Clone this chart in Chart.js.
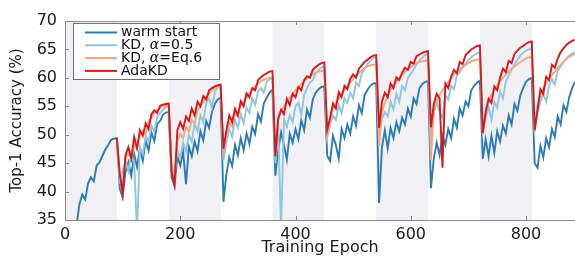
<!DOCTYPE html>
<html>
<head>
<meta charset="utf-8">
<title>Top-1 accuracy vs training epoch</title>
<script src="https://cdn.jsdelivr.net/npm/chart.js@4.4.1/dist/chart.umd.min.js"></script>
<style>
  html, body { margin: 0; padding: 0; background: #fff; }
  canvas { display: block; }
</style>
</head>
<body>
<canvas id="accChart" width="575" height="257"></canvas>
<script>
// values, one sample every 5 epochs
const epochStep = 5;
const warmStartFrom = 20;   // warm start enters the axis around epoch 20
const kdFrom = 90;          // the KD runs start after the first 90 epochs

const warmStart = [
  34.0, 37.8, 39.5, 38.6, 41.4, 42.5, 41.8, 44.6, 45.2, 46.3, 47.4, 48.2, 49.1, 49.3, 49.4,
  40.5, 39.0, 43.5, 45.2, 42.8, 46.6, 44.3, 47.6, 45.4, 49.0, 47.2, 50.4, 48.9, 51.9, 52.4, 53.5, 53.9, 54.0,
  42.5, 41.0, 46.2, 44.6, 47.0, 41.3, 47.9, 46.2, 48.8, 47.1, 50.6, 49.0, 52.4, 51.2, 54.0, 55.4, 56.2, 56.5,
  38.2, 43.0, 46.0, 44.5, 48.2, 46.4, 49.4, 47.3, 50.2, 48.4, 51.4, 50.1, 53.6, 52.3, 55.5, 56.5, 57.4, 57.9,
  42.8, 47.4, 50.4, 48.2, 45.6, 50.2, 48.6, 51.0, 49.2, 52.6, 50.8, 54.4, 53.0, 56.2, 57.4, 58.0, 58.4, 58.5,
  46.3, 45.4, 49.8, 48.2, 45.8, 51.0, 49.4, 51.8, 50.2, 53.2, 51.6, 55.2, 53.8, 57.0, 57.9, 58.6, 59.0, 59.1,
  38.0, 47.8, 50.8, 47.6, 51.2, 49.4, 52.2, 50.6, 53.0, 51.8, 54.6, 53.2, 56.4, 55.4, 58.2, 58.9, 59.3, 59.4,
  40.6, 45.8, 48.6, 46.4, 49.9, 48.2, 51.0, 49.4, 52.8, 51.2, 54.6, 53.4, 55.8, 55.0, 57.8, 58.6, 59.2, 59.5,
  45.8, 49.2, 46.2, 49.8, 46.8, 50.6, 48.8, 51.6, 50.2, 53.4, 51.8, 55.4, 54.2, 56.9, 58.2, 59.3, 59.8, 60.0,
  45.0, 44.2, 48.0, 46.0, 49.4, 47.8, 51.0, 49.6, 53.2, 51.8, 55.2, 54.0, 56.6, 58.2, 59.3
];

const kdHalf = [
  49.4,
  42.0, 43.5, 45.4, 43.6, 46.6, 45.2, 33.0, 47.8, 46.6, 49.8, 48.8, 51.6, 50.6, 53.2, 53.8, 54.4, 54.8, 55.0,
  44.5, 43.0, 47.2, 46.0, 48.6, 47.0, 50.0, 48.8, 52.0, 50.6, 53.4, 52.2, 55.6, 56.4, 54.8, 57.6, 58.3, 58.6,
  45.5, 48.8, 51.0, 49.6, 52.6, 51.2, 53.6, 52.0, 54.8, 53.8, 56.4, 55.2, 57.6, 58.2, 57.4, 59.3, 59.8, 60.0,
  45.0, 51.2, 33.5, 52.6, 51.4, 53.4, 52.2, 55.0, 55.6, 53.4, 57.0, 58.2, 59.2, 59.6, 60.8, 61.4, 61.8, 62.0,
  49.5, 51.8, 53.4, 52.6, 55.2, 53.8, 56.4, 55.6, 57.4, 56.4, 59.2, 58.6, 60.8, 61.6, 62.4, 63.0, 63.5, 63.7,
  50.0, 52.8, 54.0, 53.2, 55.8, 54.4, 57.2, 55.8, 58.6, 57.8, 60.0, 60.7, 61.5, 62.4, 63.0, 63.6, 64.0, 64.2,
  49.0, 53.8, 55.8, 54.0, 53.0, 57.0, 56.2, 58.6, 58.0, 60.4, 61.0, 61.8, 62.5, 63.1, 63.6, 64.0, 64.3, 64.5,
  50.5, 53.0, 54.8, 52.6, 55.8, 54.8, 57.6, 56.4, 59.4, 60.4, 61.5, 62.4, 63.2, 63.9, 64.4, 64.8, 65.0, 65.1,
  51.0, 53.8, 55.8, 57.2, 55.8, 58.6, 59.8, 58.8, 61.2, 62.0, 62.8, 63.4, 63.9, 64.3, 64.5
];

const kdEq6 = [
  49.4,
  43.0, 41.0, 45.8, 46.8, 45.6, 48.4, 47.6, 49.8, 50.6, 50.0, 52.4, 53.0, 53.8, 54.3, 54.7, 55.0, 55.1, 55.2,
  44.0, 42.0, 48.8, 50.2, 49.4, 51.4, 50.6, 52.6, 52.0, 54.2, 55.0, 55.8, 56.6, 57.2, 57.8, 58.2, 58.5, 58.6,
  47.0, 49.8, 52.2, 51.4, 53.8, 53.2, 55.2, 55.8, 56.5, 57.2, 57.9, 58.5, 59.0, 59.4, 59.7, 59.9, 60.0, 60.0,
  47.0, 52.8, 54.2, 55.0, 55.8, 56.5, 57.2, 57.8, 58.4, 58.9, 59.4, 59.9, 60.3, 60.6, 60.9, 61.1, 61.2, 61.2,
  50.0, 52.5, 54.5, 55.6, 56.4, 57.2, 57.9, 58.6, 59.2, 59.8, 60.4, 60.9, 61.3, 61.7, 62.0, 62.2, 62.3, 62.3,
  48.0, 54.0, 55.6, 56.8, 57.8, 58.6, 59.3, 59.9, 60.5, 61.0, 61.5, 61.9, 62.3, 62.6, 62.8, 62.9, 63.0, 63.0,
  45.5, 54.2, 56.0, 57.0, 57.8, 58.6, 59.3, 59.9, 60.5, 61.0, 61.5, 61.9, 62.3, 62.6, 62.9, 63.1, 63.2, 63.3,
  50.0, 54.0, 55.8, 57.0, 57.9, 58.7, 59.4, 60.0, 60.6, 61.1, 61.6, 62.0, 62.4, 62.8, 63.1, 63.4, 63.6, 63.7,
  50.5, 55.0, 57.0, 58.2, 59.0, 59.8, 60.5, 61.1, 61.7, 62.3, 62.8, 63.3, 63.7, 64.0, 64.2
];

const adaKD = [
  49.4,
  43.2, 39.7, 46.4, 47.8, 45.8, 49.6, 47.6, 50.8, 49.8, 52.0, 51.0, 53.6, 54.3, 53.8, 55.1, 55.3, 55.4, 55.5,
  43.5, 41.2, 50.8, 52.2, 51.0, 53.2, 52.4, 54.6, 53.4, 55.8, 55.0, 56.8, 56.2, 57.8, 58.2, 58.5, 58.7, 58.8,
  47.5, 50.8, 53.4, 52.2, 54.6, 53.4, 55.9, 55.0, 57.3, 56.6, 58.2, 57.8, 59.6, 60.1, 60.5, 60.8, 61.1, 61.2,
  46.2, 52.8, 54.4, 53.6, 56.3, 55.2, 57.2, 56.6, 58.4, 57.8, 59.6, 60.3, 60.0, 61.4, 61.9, 62.3, 62.6, 62.7,
  50.9, 53.0, 55.5, 54.6, 57.5, 56.6, 58.6, 58.0, 59.8, 60.6, 60.0, 61.6, 62.2, 62.8, 63.2, 63.6, 63.9, 64.0,
  51.2, 55.8, 57.4, 56.6, 59.0, 58.2, 60.1, 59.6, 60.9, 61.8, 61.4, 62.8, 62.5, 63.8, 64.1, 64.4, 64.6, 64.7,
  51.3, 55.4, 57.2, 56.4, 44.2, 59.0, 58.2, 60.2, 61.4, 60.8, 62.8, 62.4, 64.0, 64.5, 65.0, 65.3, 65.6, 65.7,
  50.3, 54.0, 56.3, 55.6, 58.5, 57.8, 60.0, 61.6, 61.0, 63.0, 62.6, 64.2, 64.8, 65.3, 65.6, 66.0, 66.3, 66.4,
  50.8, 54.4, 58.0, 57.2, 60.2, 59.6, 62.3, 61.8, 63.4, 64.5, 65.2, 65.8, 66.2, 66.5, 66.7
];

const xTicks = [0, 200, 400, 600, 800];
const yTicks = [35, 40, 45, 50, 55, 60, 65, 70];
const shadedBands = [[0, 90], [180, 270], [360, 450], [540, 630], [720, 810]];
const seriesNames = ['warm start', 'KD, α=0.5', 'KD, α=Eq.6', 'AdaKD'];
const seriesColors = ['#2c7bb6', '#92c5de', '#f4a582', '#d7191c'];

const frameColor = '#8a8a8a';

function toPoints(values, from) {
  return values.map((v, i) => ({ x: from + i * epochStep, y: v }));
}

// grey bands behind the curves
const bandsPlugin = {
  id: 'bands',
  beforeDatasetsDraw(chart) {
    const { ctx, chartArea: area, scales: { x } } = chart;
    ctx.save();
    ctx.fillStyle = '#f0f0f5';
    shadedBands.forEach(([from, to]) => {
      const x0 = Math.max(x.getPixelForValue(from), area.left);
      const x1 = Math.min(x.getPixelForValue(to), area.right);
      ctx.fillRect(x0, area.top, x1 - x0, area.bottom - area.top);
    });
    ctx.restore();
  }
};

// box frame with inward ticks, matlab style
const framePlugin = {
  id: 'frame',
  afterDatasetsDraw(chart) {
    const { ctx, chartArea: a, scales: { x, y } } = chart;
    ctx.save();
    ctx.strokeStyle = frameColor;
    ctx.lineWidth = 1;
    ctx.beginPath();
    ctx.moveTo(a.right + 1, a.top + 0.5);
    ctx.lineTo(a.left + 0.5, a.top + 0.5);
    ctx.lineTo(a.left + 0.5, a.bottom + 0.5);
    ctx.lineTo(a.right + 1, a.bottom + 0.5);
    xTicks.forEach(v => {
      const px = Math.round(x.getPixelForValue(v)) + 0.5;
      ctx.moveTo(px, a.bottom);
      ctx.lineTo(px, a.bottom - 4);
      ctx.moveTo(px, a.top);
      ctx.lineTo(px, a.top + 4);
    });
    yTicks.forEach(v => {
      const py = Math.round(y.getPixelForValue(v)) + 0.5;
      ctx.moveTo(a.left, py);
      ctx.lineTo(a.left + 4, py);
    });
    ctx.stroke();
    ctx.restore();
  }
};

function drawLabel(ctx, text, x, y) {
  const parts = text.split('α');
  let cx = x;
  parts.forEach((part, i) => {
    if (i > 0) {
      ctx.font = 'italic 14px "DejaVu Serif"';
      ctx.fillText('α', cx, y);
      cx += ctx.measureText('α').width;
    }
    ctx.font = '14px "DejaVu Sans"';
    ctx.fillText(part, cx, y);
    cx += ctx.measureText(part).width;
  });
}

// legend box in the upper left corner of the axes
const legendPlugin = {
  id: 'boxLegend',
  afterDraw(chart) {
    const { ctx, chartArea: a } = chart;
    const left = a.left + 8, top = a.top + 2;
    const w = 146, h = 56, rowH = 12.8;
    ctx.save();
    ctx.fillStyle = '#fff';
    ctx.fillRect(left, top, w, h);
    ctx.strokeStyle = '#6e6e6e';
    ctx.lineWidth = 1;
    ctx.strokeRect(left + 0.5, top + 0.5, w, h);
    ctx.textBaseline = 'middle';
    chart.data.datasets.forEach((ds, i) => {
      const yy = top + 9.5 + i * rowH;
      ctx.strokeStyle = ds.borderColor;
      ctx.lineWidth = 2;
      ctx.beginPath();
      ctx.moveTo(left + 12, yy);
      ctx.lineTo(left + 44, yy);
      ctx.stroke();
      ctx.fillStyle = '#111';
      drawLabel(ctx, ds.label, left + 48, yy);
    });
    ctx.restore();
  }
};

Chart.defaults.font.family = '"DejaVu Sans", sans-serif';
Chart.defaults.color = '#1a1a1a';

const seriesData = [
  toPoints(warmStart, warmStartFrom),
  toPoints(kdHalf, kdFrom),
  toPoints(kdEq6, kdFrom),
  toPoints(adaKD, kdFrom)
];

new Chart(document.getElementById('accChart'), {
  type: 'line',
  data: {
    datasets: seriesData.map((pts, i) => ({
      label: seriesNames[i],
      data: pts,
      borderColor: seriesColors[i],
      backgroundColor: seriesColors[i],
      borderWidth: 1.9,
      pointRadius: 0,
      tension: 0,
      order: seriesData.length - 1 - i
    }))
  },
  options: {
    responsive: false,
    devicePixelRatio: 1,
    animation: false,
    layout: { padding: { top: 21, right: 0, bottom: 0, left: 0 } },
    plugins: { legend: { display: false }, tooltip: { enabled: false } },
    scales: {
      x: {
        type: 'linear',
        min: 0,
        max: 885,
        afterBuildTicks: s => { s.ticks = xTicks.map(v => ({ value: v })); },
        afterFit: s => { s.height = 37; },
        grid: { display: false, drawTicks: false },
        border: { display: false },
        ticks: { font: { size: 16 }, padding: 5, maxRotation: 0 },
        title: { display: true, text: 'Training Epoch', font: { size: 16 }, padding: { top: 0, bottom: 0 } }
      },
      y: {
        min: 35,
        max: 70,
        afterBuildTicks: s => { s.ticks = yTicks.map(v => ({ value: v })); },
        afterFit: s => { s.width = 65; },
        grid: { display: false, drawTicks: false },
        border: { display: false },
        ticks: { font: { size: 16 }, padding: 8 },
        title: { display: true, text: 'Top-1 Accuracy (%)', font: { size: 15 }, padding: { top: 8, bottom: 0 } }
      }
    }
  },
  plugins: [bandsPlugin, framePlugin, legendPlugin]
});
</script>
</body>
</html>
